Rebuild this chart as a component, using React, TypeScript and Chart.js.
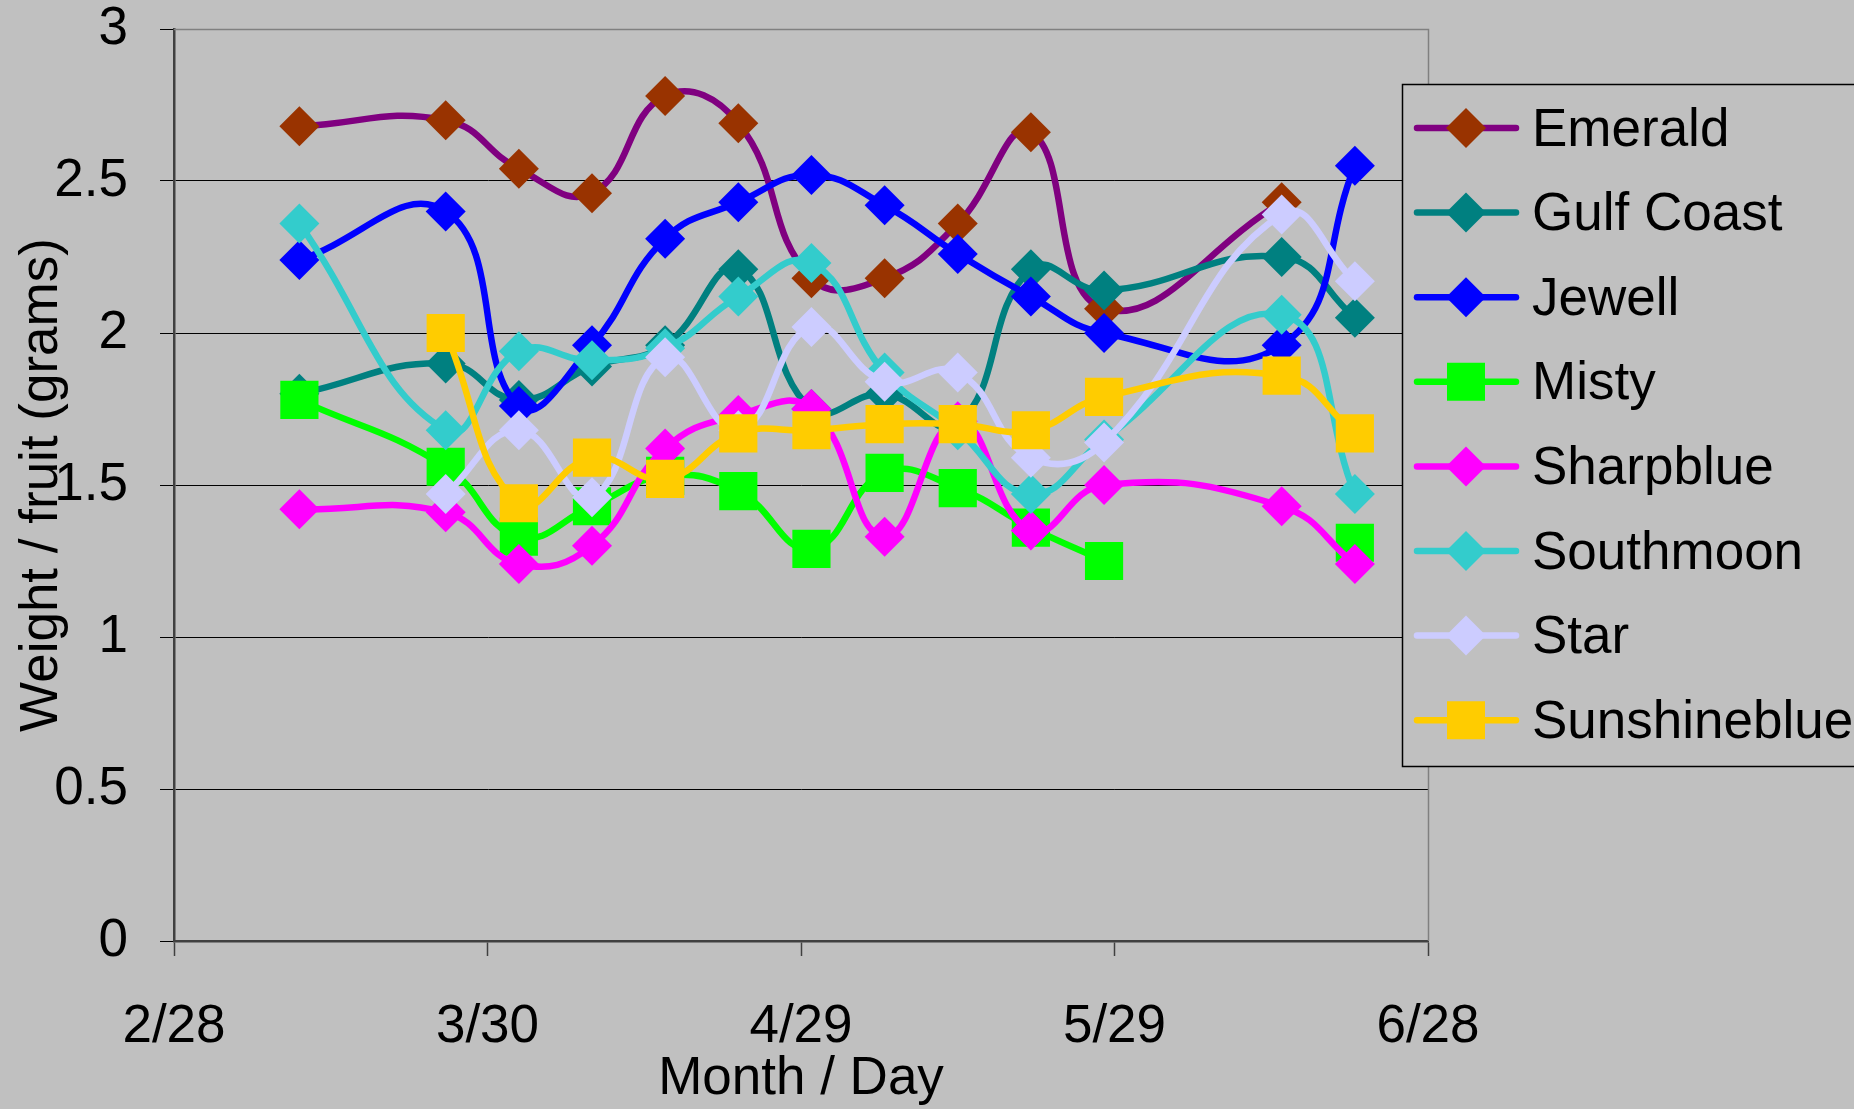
import React, { useEffect, useRef } from 'react';
import { Chart, registerables } from 'chart.js';

Chart.register(...registerables);

// Sampling days, counted from 2/28
const sampleDays = [12, 26, 33, 40, 47, 54, 61, 68, 75, 82, 89, 106, 113];
const tickDays = [0, 30, 60, 90, 120];
const tickLabels = ['2/28', '3/30', '4/29', '5/29', '6/28'];
const yTickLabels = ['0', '0.5', '1', '1.5', '2', '2.5', '3'];

const seriesNames = ['Emerald', 'Gulf Coast', 'Jewell', 'Misty', 'Sharpblue', 'Southmoon', 'Star', 'Sunshineblue'];

const emerald = [2.68, 2.70, 2.54, 2.46, 2.78, 2.69, 2.18, 2.18, 2.36, 2.66, 2.08, 2.43, null];
const gulfCoast = [1.80, 1.90, 1.78, 1.89, 1.96, 2.21, 1.75, 1.80, 1.70, 2.21, 2.14, 2.25, 2.05];
const jewell = [2.24, 2.40, 1.76, 1.96, 2.31, 2.43, 2.52, 2.42, 2.26, 2.12, 2.00, 1.96, 2.55];
const misty = [1.78, 1.56, 1.33, 1.43, 1.53, 1.48, 1.29, 1.54, 1.49, 1.36, 1.25, null, 1.31];
const sharpblue = [1.42, 1.41, 1.24, 1.30, 1.62, 1.73, 1.75, 1.33, 1.71, 1.35, 1.50, 1.43, 1.24];
const southmoon = [2.36, 1.68, 1.94, 1.91, 1.95, 2.12, 2.23, 1.87, 1.68, 1.47, 1.65, 2.06, 1.47];
const star = [null, 1.47, 1.68, 1.46, 1.92, 1.68, 2.02, 1.84, 1.87, 1.59, 1.64, 2.39, 2.17];
const sunshineblue = [null, 2.00, 1.44, 1.59, 1.52, 1.67, 1.68, 1.70, 1.70, 1.68, 1.79, 1.86, 1.67];

const seriesValues = [emerald, gulfCoast, jewell, misty, sharpblue, southmoon, star, sunshineblue];
const lineColors = ['#800080', '#008080', '#0000FF', '#00FF00', '#FF00FF', '#33CCCC', '#CCCCFF', '#FFCC00'];
const markerColors = ['#993300', '#008080', '#0000FF', '#00FF00', '#FF00FF', '#33CCCC', '#CCCCFF', '#FFCC00'];
const markerShapes = ['rectRot', 'rectRot', 'rectRot', 'rect', 'rectRot', 'rectRot', 'rectRot', 'rect'];

const FONT = '"Liberation Sans", Arial, "DejaVu Sans", sans-serif';
const BG = '#C0C0C0';
const LINE_W = 6.5;

function drawMarker(ctx: CanvasRenderingContext2D, shape: string, x: number, y: number, color: string) {
  ctx.fillStyle = color;
  ctx.beginPath();
  if (shape === 'rect') {
    const h = 19;
    ctx.rect(x - h, y - h, 2 * h, 2 * h);
  } else {
    const r = 20;
    ctx.moveTo(x - r, y);
    ctx.lineTo(x, y - r);
    ctx.lineTo(x + r, y);
    ctx.lineTo(x, y + r);
    ctx.closePath();
  }
  ctx.fill();
}

const backgroundPlugin = {
  id: 'bg',
  beforeDraw(chart: any) {
    const { ctx, width, height } = chart;
    ctx.save();
    ctx.fillStyle = BG;
    ctx.fillRect(0, 0, width, height);
    ctx.restore();
  },
  beforeDatasetsDraw(chart: any) {
    const { ctx, chartArea } = chart;
    ctx.save();
    ctx.strokeStyle = '#808080';
    ctx.lineWidth = 1.5;
    ctx.beginPath();
    ctx.moveTo(chartArea.left, chartArea.top + 0.5);
    ctx.lineTo(chartArea.right + 0.5, chartArea.top + 0.5);
    ctx.lineTo(chartArea.right + 0.5, chartArea.bottom);
    ctx.stroke();
    ctx.restore();
  },
};

const legendPlugin = {
  id: 'customLegend',
  afterDraw(chart: any) {
    const { ctx } = chart;
    const boxX = 1402;
    const boxY = 84;
    const boxW = 470;
    const boxH = 682;
    ctx.save();
    ctx.fillStyle = BG;
    ctx.fillRect(boxX, boxY, boxW, boxH);
    ctx.strokeStyle = '#000000';
    ctx.lineWidth = 1.5;
    ctx.strokeRect(boxX + 0.5, boxY + 0.5, boxW, boxH);
    const rowStart = 128;
    const rowStep = 84.6;
    seriesNames.forEach((name, i) => {
      const cy = rowStart + i * rowStep;
      ctx.strokeStyle = lineColors[i];
      ctx.lineWidth = LINE_W;
      ctx.lineCap = 'round';
      ctx.beginPath();
      ctx.moveTo(1417, cy);
      ctx.lineTo(1516, cy);
      ctx.stroke();
      drawMarker(ctx, markerShapes[i], 1466, cy, markerColors[i]);
      ctx.fillStyle = '#000000';
      ctx.font = `53px ${FONT}`;
      ctx.textBaseline = 'middle';
      ctx.textAlign = 'left';
      ctx.fillText(name, 1532, cy + 3);
    });
    ctx.restore();
  },
};

export default function App() {
  const canvasRef = useRef<HTMLCanvasElement | null>(null);

  useEffect(() => {
    const canvas = canvasRef.current;
    if (!canvas) return;
    const n = seriesNames.length;
    const datasets = seriesNames.map((name, i) => ({
      label: name,
      data: sampleDays.map((d, k) => ({ x: d, y: seriesValues[i][k] })),
      borderColor: lineColors[i],
      backgroundColor: markerColors[i],
      borderWidth: LINE_W,
      pointStyle: markerShapes[i],
      pointRadius: markerShapes[i] === 'rect' ? 27 : 20,
      pointHoverRadius: markerShapes[i] === 'rect' ? 27 : 20,
      pointBackgroundColor: markerColors[i],
      pointBorderColor: markerColors[i],
      pointBorderWidth: 0,
      tension: 0.45,
      spanGaps: false,
      fill: false,
      order: n - 1 - i,
    }));

    const chart = new Chart(canvas, {
      type: 'line',
      data: { datasets },
      options: {
        animation: false,
        responsive: false,
        devicePixelRatio: 1,
        layout: { padding: { left: 0, right: 426, top: 29, bottom: 0 } },
        plugins: {
          legend: { display: false },
          tooltip: { enabled: false },
        },
        scales: {
          x: {
            type: 'linear',
            min: 0,
            max: 120,
            afterBuildTicks: (scale: any) => {
              scale.ticks = tickDays.map((v) => ({ value: v }));
            },
            afterFit: (scale: any) => {
              scale.height = 168;
            },
            ticks: {
              autoSkip: false,
              maxRotation: 0,
              padding: 40,
              color: '#000000',
              font: { family: FONT, size: 53, lineHeight: 1.2 },
              callback: (v: any) => {
                const idx = tickDays.indexOf(Number(v));
                return idx >= 0 ? tickLabels[idx] : '';
              },
            },
            grid: {
              drawOnChartArea: false,
              drawTicks: true,
              tickLength: 15,
              tickColor: '#404040',
              tickWidth: 1.5,
            },
            border: { display: true, color: '#404040', width: 2.5 },
            title: {
              display: true,
              text: 'Month / Day',
              color: '#000000',
              font: { family: FONT, size: 53, lineHeight: 1.1 },
              padding: { top: 0, bottom: 0 },
            },
          },
          y: {
            min: 0,
            max: 3,
            afterFit: (scale: any) => {
              scale.width = 174;
              scale.paddingTop = 0;
              scale.paddingBottom = 0;
            },
            ticks: {
              stepSize: 0.5,
              padding: 32,
              color: '#000000',
              font: { family: FONT, size: 53, lineHeight: 1 },
              callback: (v: any) => {
                const idx = Math.round(Number(v) * 2);
                return yTickLabels[idx] ?? String(v);
              },
            },
            grid: {
              drawTicks: true,
              tickLength: 14,
              tickColor: '#000000',
              tickWidth: 1,
              lineWidth: 1,
              color: (ctx: any) => {
                const v = ctx.tick ? ctx.tick.value : null;
                if (v === 3 || v === 0) return 'rgba(0,0,0,0)';
                return '#000000';
              },
            },
            border: { display: true, color: '#404040', width: 2.5 },
            title: {
              display: true,
              text: 'Weight / fruit (grams)',
              color: '#000000',
              font: { family: FONT, size: 53, lineHeight: 1.2 },
              padding: { top: 11, bottom: 0 },
            },
          },
        },
      },
      plugins: [backgroundPlugin, legendPlugin],
    } as any);

    return () => {
      chart.destroy();
    };
  }, []);

  return (
    <div style={{ position: 'fixed', left: 0, top: 0, width: 1854, height: 1109, background: BG }}>
      <canvas ref={canvasRef} width={1854} height={1109} style={{ width: 1854, height: 1109, display: 'block' }} />
    </div>
  );
}
